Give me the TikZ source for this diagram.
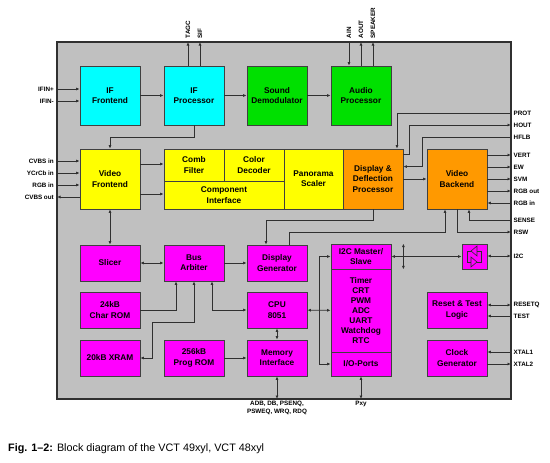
\documentclass[tikz,border=0pt]{standalone}
\usepackage{fontspec}
\setmainfont{Liberation Sans}
\usetikzlibrary{arrows.meta,calc}
\definecolor{chipgray}{HTML}{C0C0C0}
\definecolor{bdr}{HTML}{404040}
\definecolor{lnc}{HTML}{303030}
\definecolor{cyanC}{HTML}{00FFFF}
\definecolor{greenC}{HTML}{00E000}
\definecolor{yellowC}{HTML}{FFFF00}
\definecolor{orangeC}{HTML}{FF9900}
\definecolor{magC}{HTML}{FF00FF}
\newcommand\blkfont{\fontsize{8.3}{10.3}\selectfont\bfseries}
\newcommand\pinfont{\fontsize{6.3}{7.4}\selectfont\bfseries}
\tikzset{
  blk/.style={draw=bdr, line width=0.8pt, minimum width=60pt, minimum height=36pt, inner sep=0pt, align=center, font=\blkfont},
  arr/.style={draw=lnc, line width=0.7pt, -{Latex[length=3.5pt,width=3pt]}},
  darr/.style={draw=lnc, line width=0.7pt, {Latex[length=3.5pt,width=3pt]}-{Latex[length=3.5pt,width=3pt]}},
  pinl/.style={font=\pinfont, anchor=east, inner sep=3pt},
  pinr/.style={font=\pinfont, anchor=west, inner sep=2.5pt},
  pinb/.style={font=\pinfont, anchor=north, inner sep=2pt, align=center},
}
\begin{document}
\begin{tikzpicture}[x=1pt,y=-1pt]
\useasboundingbox (0,0) rectangle (550,463);
% chip outline
\node[draw=lnc, line width=1.6pt, fill=chipgray, minimum width=454pt, minimum height=357pt, inner sep=0pt] (chip) at (284,220.5) {};

% blocks
\node[blk, fill=cyanC, minimum height=59pt] (iffe) at (110,95.5) {IF\\Frontend};
\node[blk, fill=cyanC, minimum height=59pt] (ifp) at (194,95.5) {IF\\Processor};
\node[blk, fill=greenC, minimum height=59pt] (sdem) at (277,95.5) {Sound\\Demodulator};
\node[blk, fill=greenC, minimum height=59pt] (aproc) at (361,95.5) {Audio\\Processor};

\node[blk, fill=yellowC, minimum height=60pt] (vfe) at (110,179) {Video\\Frontend};
\node[blk, fill=yellowC, minimum height=32pt] (comb) at (194,165) {Comb\\Filter};
\node[blk, fill=yellowC, minimum height=32pt] (cdec) at (254,165) {Color\\Decoder};
\node[blk, fill=yellowC, minimum width=120pt, minimum height=28pt] (comp) at (224,195) {Component\\Interface};
\node[blk, fill=yellowC, minimum width=59pt, minimum height=60pt] (pano) at (313.5,179) {Panorama\\Scaler};
\node[blk, fill=orangeC, minimum height=60pt] (ddp) at (373,179) {Display \&\\Deflection\\Processor};
\node[blk, fill=orangeC, minimum height=60pt] (vbe) at (457,179) {Video\\Backend};

\node[blk, fill=magC] (slicer) at (110,263) {Slicer};
\node[blk, fill=magC] (barb) at (194,263) {Bus\\Arbiter};
\node[blk, fill=magC] (dgen) at (277,263) {Display\\Generator};
\node[blk, fill=magC] (crom) at (110,310) {24kB\\Char ROM};
\node[blk, fill=magC] (xram) at (110,358) {20kB XRAM};
\node[blk, fill=magC] (prom) at (194,358) {256kB\\Prog ROM};
\node[blk, fill=magC] (cpu) at (277,310) {CPU\\8051};
\node[blk, fill=magC] (memi) at (277,358) {Memory\\Interface};
\node[blk, fill=magC, minimum height=25pt] (i2c) at (361,256.5) {I2C Master/\\Slave};
\node[blk, fill=magC, minimum height=83pt, font=\fontsize{8.3}{10}\selectfont\bfseries] (timer) at (361,310.5) {Timer\\CRT\\PWM\\ADC\\UART\\Watchdog\\RTC};
\node[blk, fill=magC, minimum height=24pt] (iop) at (361,364) {I/O-Ports};
\node[blk, fill=magC, minimum width=25pt, minimum height=25pt] (buf) at (474.5,256.5) {};
\node[blk, fill=magC] (rst) at (457,310) {Reset \& Test\\Logic};
\node[blk, fill=magC] (clk) at (457,358) {Clock\\Generator};

% buffer symbol
\begin{scope}[shift={(buf.center)}, draw=lnc, line width=0.6pt]
  \draw (2.5,-10.5) -- (2.5,-0.5) -- (-3.5,-5.5) -- cycle;
  \draw (-3.5,0.5) -- (-3.5,10.5) -- (2.5,5.5) -- cycle;
  \draw (-3.5,-5.5) -- (-7.5,-5.5) -- (-7.5,5.5) -- (-3.5,5.5);
  \draw (2.5,-5.5) -- (6.5,-5.5) -- (6.5,5.5) -- (2.5,5.5);
\end{scope}

% left pins
\coordinate (lIFINp) at (57,89);
\coordinate (lIFINm) at (57,101);
\coordinate (lCVBSin) at (57,161);
\coordinate (lYCrCb) at (57,173);
\coordinate (lRGBin) at (57,185);
\coordinate (lCVBSout) at (57,197);
\node[pinl] at (lIFINp) {IFIN+};
\node[pinl] at (lIFINm) {IFIN-};
\node[pinl] at (lCVBSin) {CVBS in};
\node[pinl] at (lYCrCb) {YCrCb in};
\node[pinl] at (lRGBin) {RGB in};
\node[pinl] at (lCVBSout) {CVBS out};

% top pins
\coordinate (tTAGC) at (188,42);
\coordinate (tSIF) at (200,42);
\coordinate (tAIN) at (349,42);
\coordinate (tAOUT) at (361,42);
\coordinate (tSPK) at (373,42);
\node[pinr, rotate=90, inner sep=3.5pt] at (tTAGC) {TAGC};
\node[pinr, rotate=90, inner sep=3.5pt] at (tSIF) {SIF};
\node[pinr, rotate=90, inner sep=3.5pt] at (tAIN) {AIN};
\node[pinr, rotate=90, inner sep=3.5pt] at (tAOUT) {AOUT};
\node[pinr, rotate=90, inner sep=3.5pt] at (tSPK) {SPEAKER};

% right pins
\coordinate (rPROT) at (511,113);
\coordinate (rHOUT) at (511,125);
\coordinate (rHFLB) at (511,137);
\coordinate (rVERT) at (511,155);
\coordinate (rEW) at (511,167);
\coordinate (rSVM) at (511,179);
\coordinate (rRGBout) at (511,191);
\coordinate (rRGBin) at (511,203);
\coordinate (rSENSE) at (511,220);
\coordinate (rRSW) at (511,232);
\coordinate (rI2C) at (511,256);
\coordinate (rRESETQ) at (511,305);
\coordinate (rTEST) at (511,316);
\coordinate (rXTAL1) at (511,352);
\coordinate (rXTAL2) at (511,364);
\node[pinr] at (rPROT) {PROT};
\node[pinr] at (rHOUT) {HOUT};
\node[pinr] at (rHFLB) {HFLB};
\node[pinr] at (rVERT) {VERT};
\node[pinr] at (rEW) {EW};
\node[pinr] at (rSVM) {SVM};
\node[pinr] at (rRGBout) {RGB out};
\node[pinr] at (rRGBin) {RGB in};
\node[pinr] at (rSENSE) {SENSE};
\node[pinr] at (rRSW) {RSW};
\node[pinr] at (rI2C) {I2C};
\node[pinr] at (rRESETQ) {RESETQ};
\node[pinr] at (rTEST) {TEST};
\node[pinr] at (rXTAL1) {XTAL1};
\node[pinr] at (rXTAL2) {XTAL2};

% bottom pins
\coordinate (bADB) at (277,399);
\coordinate (bPxy) at (361,399);
\node[pinb] at (bADB) {ADB, DB, PSENQ,\\PSWEQ, WRQ, RDQ};
\node[pinb] at (bPxy) {Pxy};

% connectors: IF path
\draw[arr] (lIFINp) -- (lIFINp -| iffe.west);
\draw[arr] (lIFINm) -- (lIFINm -| iffe.west);
\draw[arr] (iffe) -- (ifp);
\draw[arr] (ifp) -- (sdem);
\draw[arr] (sdem) -- (aproc);
\draw[arr] (ifp.north -| tTAGC) -- (tTAGC);
\draw[arr] (ifp.north -| tSIF) -- (tSIF);
\draw[arr] (tAIN) -- (aproc.north -| tAIN);
\draw[arr] (aproc.north -| tAOUT) -- (tAOUT);
\draw[arr] (aproc.north -| tSPK) -- (tSPK);
\draw[arr] (ifp.south) -- ++(0,12) -| (vfe.north);

% video path
\draw[arr] (lCVBSin) -- (lCVBSin -| vfe.west);
\draw[arr] (lYCrCb) -- (lYCrCb -| vfe.west);
\draw[arr] (lRGBin) -- (lRGBin -| vfe.west);
\draw[arr] (lCVBSout -| vfe.west) -- (lCVBSout);
\draw[arr] ([yshift=1pt]vfe.east |- comb) -- ([yshift=1pt]comb.west);
\draw[arr] ([yshift=1pt]vfe.east |- comp) -- ([yshift=1pt]comp.west);
\draw[arr] (ddp) -- (vbe);
\draw[arr] (rPROT) -| ([xshift=24pt]ddp.north);
\draw[arr] ([yshift=-6pt]ddp.north east) -- ++(6,0) |- (rHOUT);
\draw[arr] (rHFLB) -| ([xshift=19pt,yshift=-18pt]ddp.north east) -- ([yshift=-18pt]ddp.north east);
\draw[arr] (vbe.east |- rVERT) -- (rVERT);
\draw[arr] (vbe.east |- rEW) -- (rEW);
\draw[arr] (vbe.east |- rSVM) -- (rSVM);
\draw[arr] (vbe.east |- rRGBout) -- (rRGBout);
\draw[arr] (rRGBin) -- (vbe.east |- rRGBin);
\draw[arr] (rSENSE) -| ([xshift=12pt]vbe.south);
\draw[arr] (vbe.south) |- (rRSW);
\draw[arr] ([xshift=12pt]dgen.north) -- ++(0,-12) -| ([xshift=-12pt]vbe.south);
\draw[arr] (ddp.south) -- ++(0,11) -| ([xshift=-11pt]dgen.north);

% controller
\draw[darr] (vfe) -- (slicer);
\draw[darr] (slicer) -- (barb);
\draw[arr] (barb) -- (dgen);
\draw[arr] (crom.east) -| ([xshift=-18pt]barb.south);
\draw[darr] (barb.south) -- ++(0,41) -- ++(-42,0) |- (xram.east);
\draw[darr] ([xshift=18pt]barb.south) |- (cpu.west);
\draw[arr] (prom) -- (memi);
\draw[darr] (cpu) -- (memi);
\draw[darr] (memi.south) -- (bADB);
\draw[darr] (iop.south) -- (bPxy);
\draw[darr] (cpu) -- (timer);
\draw[arr] ($(cpu.east)!0.5!(timer.west)$) |- (i2c.west);
\draw[arr] ($(cpu.east)!0.5!(timer.west)$) |- (iop.west);
\draw[darr] (i2c.east) -- (buf.west);
\draw[darr] (buf.east |- rI2C) -- (rI2C);
\draw[darr] ([xshift=12pt]i2c.north east) -- ([xshift=12pt]i2c.south east);
\draw[darr] (rst.east |- rRESETQ) -- (rRESETQ);
\draw[arr] (rTEST) -- (rst.east |- rTEST);
\draw[arr] (rXTAL1) -- (clk.east |- rXTAL1);
\draw[arr] (clk.east |- rXTAL2) -- (rXTAL2);

% caption
\node[anchor=west, inner sep=0pt, font=\fontsize{10.8}{12}\selectfont] (cap) at (8,449) {\textbf{Fig. 1–2:} Block diagram of the VCT 49xyl, VCT 48xyl};
\end{tikzpicture}
\end{document}
